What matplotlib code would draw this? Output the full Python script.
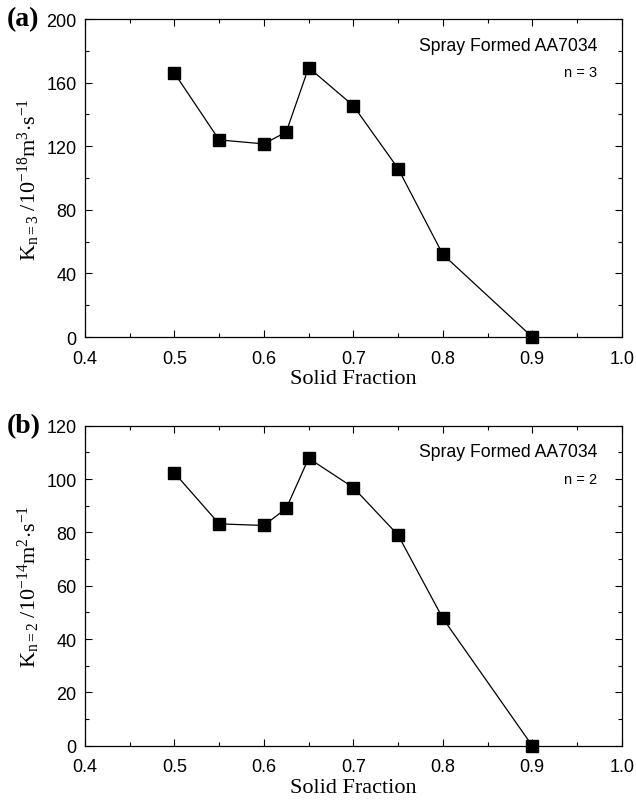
import matplotlib
matplotlib.use('Agg')
import matplotlib.pyplot as plt
from matplotlib.ticker import MultipleLocator

# data
solid_fraction = [0.5, 0.55, 0.6, 0.625, 0.65, 0.7, 0.75, 0.8, 0.9]
k_n3 = [166, 124, 121.5, 129, 169.5, 145.5, 106, 52, 0]
k_n2 = [102.3, 83.2, 82.6, 89, 107.8, 96.8, 79, 47.8, 0]

plt.rcParams['font.family'] = ['Liberation Sans', 'DejaVu Sans']
plt.rcParams['mathtext.fontset'] = 'custom'
plt.rcParams['mathtext.rm'] = 'Liberation Serif'
plt.rcParams['mathtext.it'] = 'Liberation Serif:italic'
plt.rcParams['mathtext.bf'] = 'Liberation Serif:bold'

fig = plt.figure(figsize=(6.36, 8.03), dpi=100)
ax_a = fig.add_axes([0.1336, 0.579, 0.844, 0.396])
ax_b = fig.add_axes([0.1336, 0.070, 0.844, 0.3986])

panels = [
    (ax_a, k_n3, 200, 40, 20, '(a)', 'n = 3',
     r'$\mathrm{K_{n=3}\ /10^{-18}m^{3}{\cdot}s^{-1}}$'),
    (ax_b, k_n2, 120, 20, 10, '(b)', 'n = 2',
     r'$\mathrm{K_{n=2}\ /10^{-14}m^{2}{\cdot}s^{-1}}$'),
]

for ax, vals, ymax, ymaj, ymin, tag, ntext, ylab in panels:
    ax.plot(solid_fraction, vals, color='black', lw=0.9, marker='s',
            markersize=8.5, markerfacecolor='black', clip_on=False, zorder=3)
    ax.set_xlim(0.4, 1.0)
    ax.set_ylim(0, ymax)
    ax.xaxis.set_major_locator(MultipleLocator(0.1))
    ax.xaxis.set_minor_locator(MultipleLocator(0.05))
    ax.yaxis.set_major_locator(MultipleLocator(ymaj))
    ax.yaxis.set_minor_locator(MultipleLocator(ymin))
    ax.xaxis.set_major_formatter(plt.FuncFormatter(lambda v, p: f'{v:.1f}'))
    ax.tick_params(which='both', direction='in', top=True, right=True,
                   labelsize=13, width=0.8)
    ax.tick_params(which='major', length=5)
    ax.tick_params(which='minor', length=3)
    ax.tick_params(axis='x', which='major', pad=9)
    ax.tick_params(axis='y', which='major', pad=6)
    for s in ax.spines.values():
        s.set_linewidth(0.9)
    ax.set_xlabel('Solid Fraction', family='Liberation Serif', fontsize=16,
                  labelpad=2)
    ax.set_ylabel(ylab, fontsize=16, labelpad=3)
    ax.text(0.954, 0.918, 'Spray Formed AA7034', transform=ax.transAxes,
            ha='right', va='center', fontsize=12.7)
    ax.text(0.954, 0.835, ntext, transform=ax.transAxes,
            ha='right', va='center', fontsize=10.5)
    ax.text(-0.145, 1.0, tag, transform=ax.transAxes, ha='left',
            va='center', fontsize=20, fontweight='bold',
            family='Liberation Serif')

fig.savefig('out.png', dpi=100)
